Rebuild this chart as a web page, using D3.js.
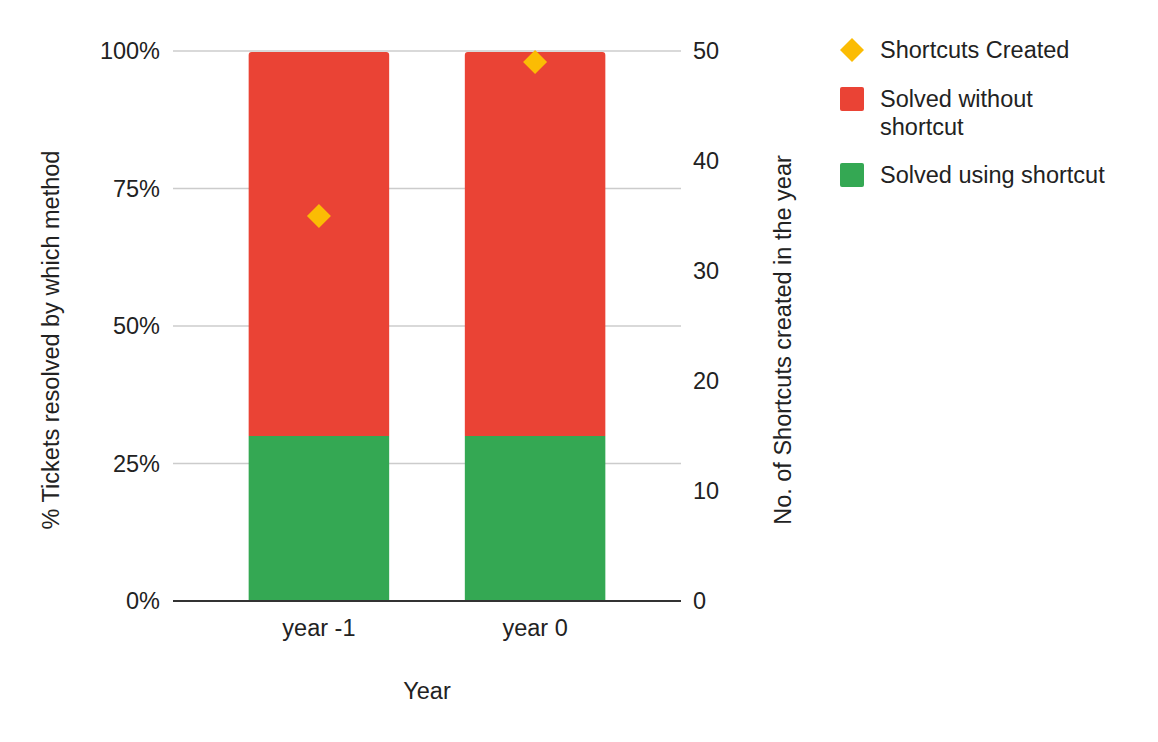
<!DOCTYPE html>
<html><head><meta charset="utf-8">
<script src="https://cdn.jsdelivr.net/npm/d3@7"></script>
<style>body{margin:0;background:#fff}text{font-family:"Liberation Sans",Arial,sans-serif}</style>
</head><body>
<svg id="c" width="1158" height="742"></svg>
<script>
const categories = ["year -1", "year 0"];
const solvedUsing = [30, 30];
const solvedWithout = [70, 70];
const shortcutsCreated = [35, 49];
const leftTicks = [0, 25, 50, 75, 100];
const rightTicks = [0, 10, 20, 30, 40, 50];
const colors = {using:"#34a853", without:"#ea4335", created:"#fbbc04"};

const FS = 23.5;
const svg = d3.select("#c");
const L = 173, R = 681, T = 51, B = 601;
const x = d3.scaleBand().domain(categories).range([L, R]).paddingInner(0.35).paddingOuter(0.35);
const yL = d3.scaleLinear().domain([0, 100]).range([B, T]);
const yR = d3.scaleLinear().domain([0, 50]).range([B, T]);

// gridlines
svg.append("g").selectAll("line").data(leftTicks.filter(d=>d>0)).join("line")
  .attr("x1", L).attr("x2", R).attr("y1", d=>yL(d)).attr("y2", d=>yL(d))
  .attr("stroke", "#cccccc").attr("stroke-width", 1.3);

// bars
const rows = categories.map((c,i)=>({c, using:solvedUsing[i], without:solvedWithout[i]}));
const stack = d3.stack().keys(["using","without"])(rows);
stack.forEach(s=>{
  svg.append("g").selectAll("path").data(s).join("path")
    .attr("fill", colors[s.key])
    .attr("d", d=>{
      const x0 = x(d.data.c), w = x.bandwidth();
      const y0 = yL(d[0]), y1 = yL(d[1]) + (s.key==="without"?1:0);
      const r = s.key==="without" ? 3 : 0;
      const p = d3.path();
      p.moveTo(x0, y0);
      p.lineTo(x0, y1 + r);
      if (r) p.arcTo(x0, y1, x0 + r, y1, r);
      p.lineTo(x0 + w - r, y1);
      if (r) p.arcTo(x0 + w, y1, x0 + w, y1 + r, r);
      p.lineTo(x0 + w, y0);
      p.closePath();
      return p.toString();
    });
});

// baseline
svg.append("line").attr("x1", L).attr("x2", R).attr("y1", B).attr("y2", B)
  .attr("stroke", "#333333").attr("stroke-width", 2);

// diamonds
const diamond = d3.symbol().type(d3.symbolSquare).size(288);
svg.append("g").selectAll("path").data(shortcutsCreated).join("path")
  .attr("d", diamond)
  .attr("transform", (d,i)=>`translate(${x(categories[i]) + x.bandwidth()/2},${yR(d)}) rotate(45)`)
  .attr("fill", colors.created);

// left axis labels
svg.append("g").selectAll("text").data(leftTicks).join("text")
  .attr("x", 160).attr("y", d=>yL(d)).attr("dy", "0.35em").attr("text-anchor", "end")
  .attr("font-size", FS).attr("fill", "#222").text(d=>d+"%");
// right axis labels
svg.append("g").selectAll("text").data(rightTicks).join("text")
  .attr("x", 693).attr("y", d=>yR(d)).attr("dy", "0.35em").attr("text-anchor", "start")
  .attr("font-size", FS).attr("fill", "#222").text(d=>d);
// x labels
svg.append("g").selectAll("text").data(categories).join("text")
  .attr("x", d=>x(d)+x.bandwidth()/2).attr("y", 636).attr("text-anchor", "middle")
  .attr("font-size", FS).attr("fill", "#222").text(d=>d);

// axis titles
svg.append("text").attr("x", 427).attr("y", 699).attr("text-anchor", "middle")
  .attr("font-size", FS).attr("fill", "#222").text("Year");
svg.append("text").attr("transform", "translate(59,340) rotate(-90)").attr("text-anchor", "middle")
  .attr("font-size", FS).attr("fill", "#222").text("% Tickets resolved by which method");
svg.append("text").attr("transform", "translate(791,340) rotate(-90)").attr("text-anchor", "middle")
  .attr("font-size", FS).attr("fill", "#222").text("No. of Shortcuts created in the year");

// legend
const lg = svg.append("g");
lg.append("path").attr("d", d3.symbol().type(d3.symbolSquare).size(288))
  .attr("transform", "translate(852,50) rotate(45)").attr("fill", colors.created);
lg.append("text").attr("x", 880).attr("y", 50).attr("dy", "0.35em").attr("font-size", FS).attr("fill", "#222").text("Shortcuts Created");
lg.append("rect").attr("x", 840).attr("y", 87).attr("width", 24).attr("height", 24).attr("rx", 2).attr("fill", colors.without);
lg.append("text").attr("x", 880).attr("y", 99).attr("dy", "0.35em").attr("font-size", FS).attr("fill", "#222").text("Solved without");
lg.append("text").attr("x", 880).attr("y", 127).attr("dy", "0.35em").attr("font-size", FS).attr("fill", "#222").text("shortcut");
lg.append("rect").attr("x", 840).attr("y", 163).attr("width", 24).attr("height", 24).attr("rx", 2).attr("fill", colors.using);
lg.append("text").attr("x", 880).attr("y", 175).attr("dy", "0.35em").attr("font-size", FS).attr("fill", "#222").text("Solved using shortcut");
</script>
</body></html>
